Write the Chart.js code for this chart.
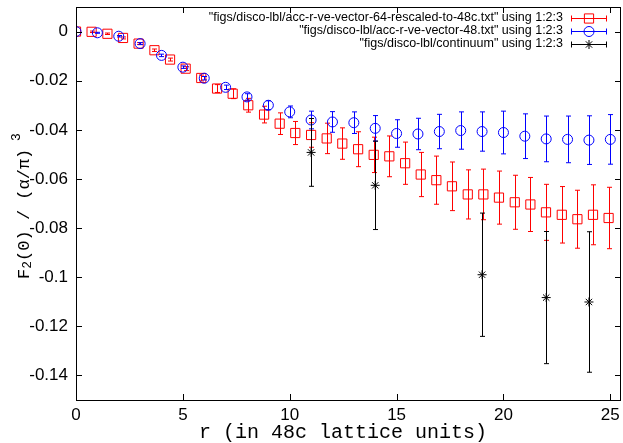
<!DOCTYPE html>
<html lang="en">
<head>
    <meta charset="UTF-8">
    <title>F2(0) vs r</title>
    <style>
        html, body { margin: 0; padding: 0; background: #fff; }
        #wrap { width: 623px; height: 443px; }
    </style>
    <script src="https://cdn.jsdelivr.net/npm/chart.js@4.4.0/dist/chart.umd.min.js"></script>
</head>
<body>
    <div id="wrap"><canvas id="chart" width="623" height="443"></canvas></div>

    <script>
        // 64c data rescaled to 48c lattice units (red squares)
        const redR = [0, 0.73, 1.47, 2.20, 2.93, 3.67, 4.40, 5.13, 5.86, 6.60, 7.33, 8.06, 8.80, 9.53, 10.26, 11.00, 11.73,
            12.46, 13.20, 13.93, 14.66, 15.40, 16.13, 16.86, 17.59, 18.33, 19.06, 19.79, 20.53, 21.26, 21.99, 22.73, 23.46, 24.19, 24.92];
        const redF = [0, -0.0001, -0.0009, -0.0026, -0.0049, -0.0076, -0.0114, -0.0151, -0.0189, -0.0232, -0.0253, -0.0300,
            -0.0338, -0.0375, -0.0413, -0.0421, -0.0435, -0.0456, -0.0479, -0.0502, -0.0508, -0.0536, -0.0582, -0.0605,
            -0.0630, -0.0663, -0.0663, -0.0676, -0.0695, -0.0704, -0.0736, -0.0746, -0.0764, -0.0746, -0.0759];
        const redErr = [0, 0.0003, 0.0003, 0.0004, 0.0004, 0.0005, 0.0006, 0.0008, 0.0012, 0.0016, 0.0020, 0.0028, 0.0034,
            0.0044, 0.0047, 0.0050, 0.0062, 0.0064, 0.0071, 0.0072, 0.0083, 0.0086, 0.0090, 0.0098, 0.0099, 0.0100, 0.0103,
            0.0108, 0.0110, 0.0110, 0.0114, 0.0115, 0.0118, 0.0122, 0.0125];

        // 48c data (blue circles)
        const blueR = [0, 1, 2, 3, 4, 5, 6, 7, 8, 9, 10, 11, 12, 13, 14, 15, 16, 17, 18, 19, 20, 21, 22, 23, 24, 25];
        const blueF = [0, -0.0005, -0.0019, -0.0049, -0.0097, -0.0145, -0.0190, -0.0227, -0.0266, -0.0300, -0.0327, -0.0360,
            -0.0368, -0.0371, -0.0394, -0.0415, -0.0417, -0.0407, -0.0403, -0.0407, -0.0411, -0.0426, -0.0437, -0.0439,
            -0.0442, -0.0439];
        const blueErr = [0, 0.0002, 0.0003, 0.0004, 0.0005, 0.0005, 0.0007, 0.0009, 0.0013, 0.0018, 0.0024, 0.0036, 0.0042,
            0.0044, 0.0052, 0.0056, 0.0064, 0.0070, 0.0076, 0.0080, 0.0087, 0.0091, 0.0093, 0.0095, 0.0099, 0.0101];

        // continuum (black stars)
        const contR = [11, 14, 19, 22, 24];
        const contF = [-0.0492, -0.0626, -0.0990, -0.1083, -0.1101];
        const contErr = [0.0138, 0.0180, 0.0251, 0.0269, 0.0286];

        const xTicks = [0, 5, 10, 15, 20, 25];
        const yTicks = [0, -0.02, -0.04, -0.06, -0.08, -0.1, -0.12, -0.14];

        const legendLabels = [
            '"figs/disco-lbl/acc-r-ve-vector-64-rescaled-to-48c.txt" using 1:2:3',
            '"figs/disco-lbl/acc-r-ve-vector-48.txt" using 1:2:3',
            '"figs/disco-lbl/continuum" using 1:2:3'
        ];
        const xTitle = 'r (in 48c lattice units)';

        const RED = '#ff0000';
        const BLUE = '#0000ff';
        const BLACK = '#000000';
        const NONE = 'rgba(0,0,0,0)';

        function pts(xs, ys) {
            return xs.map((x, i) => ({x: x, y: ys[i]}));
        }

        function noPad(s) {
            s.paddingLeft = 0; s.paddingRight = 0;
            s.paddingTop = 0; s.paddingBottom = 0;
        }

        // error bars, border, inward ticks, legend and y title
        const gnuplotLook = {
            id: 'gnuplotLook',
            afterDatasetDraw(chart, args) {
                const ds = chart.data.datasets[args.index];
                const errs = ds.errs;
                if (!errs) return;
                const xs = chart.scales.x, ys = chart.scales.y;
                const ctx = chart.ctx;
                ctx.save();
                ctx.strokeStyle = ds.borderColor;
                ctx.lineWidth = 1;
                ctx.beginPath();
                ds.data.forEach((p, i) => {
                    const e = errs[i];
                    if (!e) return;
                    const px = Math.round(xs.getPixelForValue(p.x)) + 0.5;
                    const top = ys.getPixelForValue(p.y + e);
                    const bot = ys.getPixelForValue(p.y - e);
                    ctx.moveTo(px, top); ctx.lineTo(px, bot);
                    ctx.moveTo(px - 2.5, top); ctx.lineTo(px + 2.5, top);
                    ctx.moveTo(px - 2.5, bot); ctx.lineTo(px + 2.5, bot);
                });
                ctx.stroke();
                ctx.restore();
            },
            afterDraw(chart) {
                const ctx = chart.ctx;
                const a = chart.chartArea;
                const xs = chart.scales.x, ys = chart.scales.y;
                ctx.save();
                ctx.strokeStyle = BLACK;
                ctx.lineWidth = 1;
                ctx.beginPath();
                xTicks.forEach(v => {
                    const px = Math.round(xs.getPixelForValue(v)) + 0.5;
                    ctx.moveTo(px, a.bottom); ctx.lineTo(px, a.bottom - 6);
                    ctx.moveTo(px, a.top); ctx.lineTo(px, a.top + 6);
                });
                yTicks.forEach(v => {
                    const py = Math.round(ys.getPixelForValue(v)) + 0.5;
                    ctx.moveTo(a.left, py); ctx.lineTo(a.left + 6, py);
                    ctx.moveTo(a.right, py); ctx.lineTo(a.right - 6, py);
                });
                ctx.stroke();
                ctx.strokeRect(Math.round(a.left) + 0.5, Math.round(a.top) + 0.5,
                    Math.round(a.right - a.left) - 1, Math.round(a.bottom - a.top));

                // legend
                ctx.font = '12.5px "Liberation Sans", Arial, sans-serif';
                ctx.textAlign = 'right';
                ctx.textBaseline = 'middle';
                const cols = [RED, BLUE, BLACK];
                const styles = ['rect', 'circle', 'star'];
                const radii = [6.5, 5, 4.5];
                legendLabels.forEach((t, i) => {
                    const y = 18 + i * 13;
                    ctx.fillStyle = BLACK;
                    ctx.fillText(t, 563, y);
                    ctx.strokeStyle = cols[i];
                    ctx.beginPath();
                    ctx.moveTo(571, y + 0.5); ctx.lineTo(607, y + 0.5);
                    ctx.moveTo(571.5, y - 2.5); ctx.lineTo(571.5, y + 3.5);
                    ctx.moveTo(606.5, y - 2.5); ctx.lineTo(606.5, y + 3.5);
                    ctx.stroke();
                    ctx.fillStyle = NONE;
                    Chart.helpers.drawPoint(ctx, {pointStyle: styles[i], radius: radii[i], borderWidth: 1, rotation: 0}, 589, y + 0.5);
                });

                // x title
                ctx.fillStyle = BLACK;
                ctx.font = '20px "Liberation Mono", "DejaVu Sans Mono", monospace';
                ctx.textAlign = 'center';
                ctx.textBaseline = 'middle';
                ctx.fillText(xTitle, 343, 433);

                // y title: F_2(0) / (alpha/pi)^3
                ctx.translate(24, 206);
                ctx.rotate(-Math.PI / 2);
                const big = '17px "Liberation Mono", "DejaVu Sans Mono", monospace';
                const small = '13px "Liberation Mono", "DejaVu Sans Mono", monospace';
                const parts = [
                    {t: 'F', f: big, dy: 0},
                    {t: '2', f: small, dy: 4},
                    {t: '(0) / (\u03b1/\u03c0)', f: big, dy: 0},
                    {t: ' 3', f: small, dy: -7}
                ];
                let w = 0;
                parts.forEach(p => { ctx.font = p.f; w += ctx.measureText(p.t).width; });
                let x0 = -w / 2;
                ctx.textAlign = 'left';
                parts.forEach(p => {
                    ctx.font = p.f;
                    ctx.fillText(p.t, x0, p.dy);
                    x0 += ctx.measureText(p.t).width;
                });
                ctx.restore();
            }
        };

        const tickFont = {family: '"Liberation Sans", Arial, sans-serif', size: 17};

        new Chart(document.getElementById('chart'), {
            type: 'scatter',
            data: {
                datasets: [{
                    label: 'red',
                    data: pts(redR, redF),
                    errs: redErr,
                    pointStyle: 'rect',
                    radius: 6.5,
                    borderColor: RED,
                    backgroundColor: NONE,
                    borderWidth: 1,
                    order: 3
                }, {
                    label: 'blue',
                    data: pts(blueR, blueF),
                    errs: blueErr,
                    pointStyle: 'circle',
                    radius: 5,
                    borderColor: BLUE,
                    backgroundColor: NONE,
                    borderWidth: 1,
                    order: 2
                }, {
                    label: 'black',
                    data: pts(contR, contF),
                    errs: contErr,
                    pointStyle: 'star',
                    radius: 4.5,
                    borderColor: BLACK,
                    backgroundColor: NONE,
                    borderWidth: 1,
                    order: 1
                }]
            },
            options: {
                animation: false,
                responsive: false,
                events: [],
                layout: {autoPadding: false, padding: {top: 7, right: 2, left: 0, bottom: 0}},
                plugins: {legend: {display: false}, tooltip: {enabled: false}, title: {display: false}},
                scales: {
                    x: {
                        type: 'linear',
                        min: 0,
                        max: 25.5,
                        grid: {display: false, drawTicks: false},
                        border: {display: false},
                        ticks: {font: tickFont, color: BLACK, padding: 5, maxRotation: 0},
                        afterBuildTicks: s => { s.ticks = xTicks.map(v => ({value: v})); },
                        afterFit: s => { s.height = 43; noPad(s); }
                    },
                    y: {
                        min: -0.15,
                        max: 0.01,
                        grid: {display: false, drawTicks: false},
                        border: {display: false},
                        ticks: {font: tickFont, color: BLACK, padding: 8,
                            callback: v => String(Number(v.toFixed(2)))},
                        afterBuildTicks: s => { s.ticks = yTicks.map(v => ({value: v})); },
                        afterFit: s => { s.width = 76; noPad(s); }
                    }
                }
            },
            plugins: [gnuplotLook]
        });
    </script>
</body>
</html>
